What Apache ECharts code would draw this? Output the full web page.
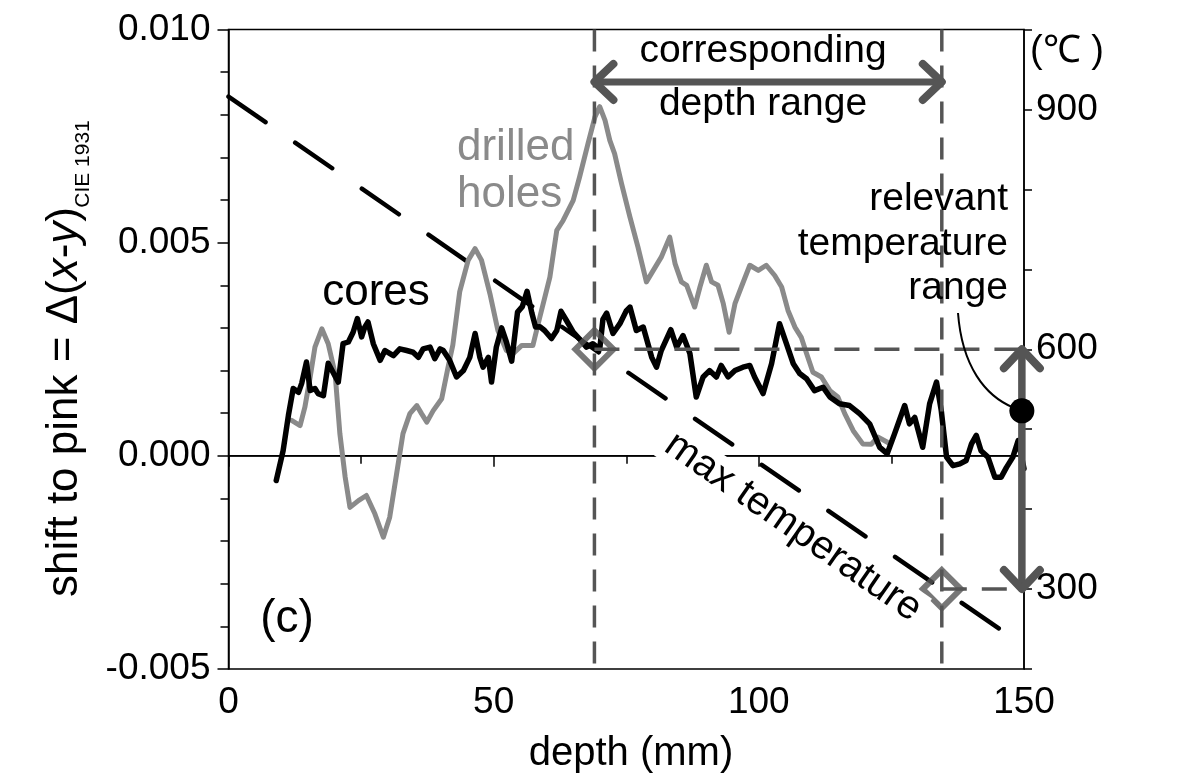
<!DOCTYPE html>
<html><head><meta charset="utf-8">
<script src="https://cdn.jsdelivr.net/npm/echarts@6/dist/echarts.min.js"></script>
<style>html,body{margin:0;padding:0;background:#fff}#c{width:1182px;height:780px}</style>
</head><body><div id="c"></div>
<script>
// ---- data ----
const coresDepth = [9.0,10.3,11.3,12.2,13.2,13.8,14.7,15.4,16.3,16.9,17.9,18.8,20.7,21.6,22.6,23.5,24.3,25.1,25.7,26.3,27.3,28.6,29.5,31.1,32.3,33.6,34.8,35.8,36.7,38.0,38.9,39.9,40.5,41.7,43.0,44.3,45.5,46.5,47.4,48.0,49.0,49.6,50.5,51.5,52.4,53.4,54.5,55.4,56.3,57.2,57.9,58.7,59.6,60.9,61.9,62.7,63.7,65.0,66.2,67.5,68.7,70.0,70.6,71.3,72.5,73.8,75.0,75.7,76.9,78.2,79.8,80.7,81.6,83.4,84.5,85.7,87.0,88.2,89.5,90.7,92.0,92.9,94.2,95.5,97.0,98.3,99.2,100.8,102.4,103.9,105.2,106.5,107.7,109.0,110.5,112.1,113.4,115.2,117.1,119.0,120.9,122.8,124.2,125.6,127.5,128.4,129.4,130.9,132.2,133.5,134.4,135.4,136.6,137.9,139.1,140.1,141.0,141.9,143.2,144.5,145.7,146.7,147.9,148.9,150.0];
const coresShift = [-0.00058,0.00012,0.00095,0.00158,0.00149,0.0017,0.0022,0.00153,0.00158,0.00146,0.00141,0.00217,0.00173,0.00263,0.00267,0.0029,0.00322,0.00279,0.00302,0.00314,0.00263,0.00224,0.00247,0.00235,0.00251,0.00247,0.00243,0.00231,0.00251,0.00255,0.00228,0.00251,0.00247,0.00224,0.00185,0.002,0.00231,0.00287,0.00231,0.00208,0.00231,0.00173,0.00255,0.003,0.00267,0.00222,0.00337,0.0035,0.00386,0.00335,0.00302,0.00303,0.00294,0.00275,0.00294,0.00339,0.00318,0.0029,0.00274,0.00255,0.00263,0.0025,0.0032,0.00335,0.00287,0.0031,0.0034,0.00349,0.00294,0.00302,0.00231,0.00208,0.00247,0.00296,0.00255,0.00282,0.0024,0.00138,0.00185,0.002,0.00185,0.00212,0.00185,0.002,0.00208,0.00212,0.00185,0.00146,0.00216,0.0031,0.00263,0.00216,0.00193,0.00181,0.00153,0.00161,0.00138,0.00122,0.00118,0.00099,0.00075,0.0002,0.00005,0.00052,0.00118,0.00075,0.0009,0.0002,0.00122,0.00173,0.00106,-0.00003,-0.00023,-0.00019,-0.00011,0.00028,0.00048,0.00012,-0.00003,-0.0005,-0.0005,-0.00027,-0.00003,0.00036,-0.0003];

const holesDepth = [11.9,13.5,14.4,15.4,16.3,17.6,18.8,20.1,21.0,22.0,22.9,24.5,26.0,27.6,29.2,30.4,31.7,32.9,34.2,35.5,36.4,37.4,38.6,40.2,41.4,42.3,43.6,45.2,46.5,47.7,49.3,50.8,52.4,53.7,55.3,57.4,58.7,60.6,61.9,63.1,65.0,66.2,67.8,69.1,70.0,71.0,71.9,72.8,74.1,75.7,77.2,78.8,80.1,81.6,83.2,84.2,85.4,86.4,87.9,88.9,90.1,91.1,92.3,93.3,94.4,95.5,96.7,98.3,99.9,101.4,103.0,104.3,105.5,106.8,108.0,109.0,110.2,111.8,113.4,114.9,116.2,117.8,119.6,121.2,122.5,124.5];
const holesShift = [0.00083,0.00071,0.00114,0.00185,0.00255,0.00298,0.00263,0.00193,0.00052,-0.0005,-0.00121,-0.00105,-0.00093,-0.00136,-0.00191,-0.00144,-0.00042,0.00052,0.00099,0.00118,0.00099,0.00079,0.00106,0.00134,0.00208,0.0026,0.00385,0.00459,0.00486,0.00459,0.0038,0.00294,0.00247,0.0024,0.00259,0.00259,0.00325,0.00419,0.00529,0.00552,0.00599,0.00654,0.00733,0.00795,0.00819,0.00787,0.0074,0.00709,0.00639,0.0056,0.0049,0.00408,0.00435,0.00466,0.00513,0.00451,0.00408,0.004,0.00349,0.00396,0.00447,0.00408,0.004,0.00357,0.0029,0.00357,0.00396,0.00447,0.00435,0.00447,0.00423,0.00396,0.00341,0.00302,0.00278,0.0024,0.00196,0.00185,0.00153,0.00138,0.00099,0.00059,0.00028,0.00027,0.00044,0.0003];

// max temperature line (right axis, deg C)
const maxTempDepth = [0, 145.4];
const maxTempC = [916, 250];
// corresponding depth range and relevant temperature range
const rangeDepth = [69, 134.5];
const rangeTempC = [600, 300];
const arrowShift = 0.00877;      // height of the depth-range arrow (left axis)
const arrowDepth = 149.6;        // position of the temperature-range arrow
const dotTempC = 523;            // black callout dot
// axes
const xTickLabels = [0, 50, 100, 150];
const leftTickLabels = [-0.005, 0.000, 0.005, 0.010];
const rightTickLabels = [300, 600, 900];

const zip = (a, b) => a.map((v, i) => [v, b[i]]);
const DARK = '#555555', GREY = '#8a8a8a';
const FONT = '"Liberation Sans", Arial, sans-serif';

const chart = echarts.init(document.getElementById('c'), null, {renderer: 'canvas'});
const opt = {
  animation: false,
  backgroundColor: '#fff',
  textStyle: {fontFamily: FONT},
  grid: {left: 228.5, right: 158, top: 29.5, bottom: 111, show: true, borderColor: '#000', borderWidth: 1.5, backgroundColor: 'transparent'},
  xAxis: {
    type: 'value', min: 0, max: 150, interval: 50,
    axisLine: {show: true, lineStyle: {color: '#000', width: 1.5}},
    axisTick: {show: true, inside: false, length: 11, lineStyle: {color: '#000', width: 1.5}},
    minorTick: {show: true, splitNumber: 2, length: 8, lineStyle: {color: '#000', width: 1.5}},
    splitLine: {show: false}, minorSplitLine: {show: false},
    axisLabel: {fontSize: 37, color: '#000', margin: 15, fontFamily: FONT,
      formatter: v => xTickLabels.includes(v) ? String(v) : ''}
  },
  yAxis: [{
    type: 'value', min: -0.005, max: 0.010, interval: 0.005,
    axisLine: {show: true, onZero: false, lineStyle: {color: '#000', width: 1.5}},
    axisTick: {show: true, length: 11, lineStyle: {color: '#000', width: 1.5}},
    minorTick: {show: true, splitNumber: 5, length: 8, lineStyle: {color: '#000', width: 1.5}},
    splitLine: {show: false}, minorSplitLine: {show: false},
    axisLabel: {fontSize: 37, color: '#000', margin: 18, fontFamily: FONT,
      formatter: v => {
        const r = Math.round(v * 1000) / 1000;
        return leftTickLabels.some(t => Math.abs(t - r) < 1e-9) ? (Math.abs(r) < 1e-9 ? '0.000' : r.toFixed(3)) : '';
      }}
  }, {
    type: 'value', min: 200, max: 1000, interval: 100, position: 'right',
    axisLine: {show: true, onZero: false, lineStyle: {color: '#000', width: 1.5}},
    axisTick: {show: true, length: 8, lineStyle: {color: '#000', width: 1.5}},
    splitLine: {show: false},
    axisLabel: {fontSize: 37, color: '#000', margin: 12, fontFamily: FONT,
      formatter: v => rightTickLabels.includes(v) ? String(v) : ''}
  }],
  series: [
    {type: 'line', name: 'zero', data: [[0, 0], [150, 0]], showSymbol: false, silent: true, z: 1,
     lineStyle: {color: '#000', width: 1.5}},
    {type: 'line', name: 'drilled holes', data: zip(holesDepth, holesShift), showSymbol: false, z: 3,
     lineStyle: {color: GREY, width: 5, join: 'round', cap: 'round'}},
    {type: 'line', name: 'cores', data: zip(coresDepth, coresShift), showSymbol: false, z: 4,
     lineStyle: {color: '#000', width: 5.5, join: 'round', cap: 'round'}},
    {type: 'line', name: 'max temperature', yAxisIndex: 1, data: zip(maxTempDepth, maxTempC), showSymbol: false, z: 2,
     lineStyle: {color: '#000', width: 4.5, type: [45, 36], cap: 'round'}},
    {type: 'line', data: [[rangeDepth[0], 0.010], [rangeDepth[0], -0.005]], showSymbol: false, z: 5,
     lineStyle: {color: DARK, width: 3.5, type: [22, 14]}},
    {type: 'line', data: [[rangeDepth[1], 0.010], [rangeDepth[1], -0.005]], showSymbol: false, z: 5,
     lineStyle: {color: DARK, width: 3.5, type: [22, 14]}},
    {type: 'line', yAxisIndex: 1, data: [[rangeDepth[0], rangeTempC[0]], [150, rangeTempC[0]]], showSymbol: false, z: 5,
     lineStyle: {color: DARK, width: 3.5, type: [25, 15]}},
    {type: 'line', yAxisIndex: 1, data: [[rangeDepth[1], rangeTempC[1]], [150, rangeTempC[1]]], showSymbol: false, z: 5,
     lineStyle: {color: DARK, width: 3.5, type: [25, 15]}},
    {type: 'line', data: [[rangeDepth[0], arrowShift], [rangeDepth[1], arrowShift]], showSymbol: false, z: 6,
     lineStyle: {color: DARK, width: 7}},
    {type: 'line', yAxisIndex: 1, data: [[arrowDepth, rangeTempC[0]], [arrowDepth, rangeTempC[1]]], showSymbol: false, z: 6,
     lineStyle: {color: DARK, width: 7.5}},
    {type: 'scatter', yAxisIndex: 1, data: zip(rangeDepth, rangeTempC), symbol: 'diamond', symbolSize: 38, z: 7,
     itemStyle: {color: 'rgba(255,255,255,0)', borderColor: DARK, borderWidth: 6}},
    {type: 'scatter', yAxisIndex: 1, data: [[arrowDepth, dotTempC]], symbol: 'circle', symbolSize: 25, z: 8,
     itemStyle: {color: '#000', opacity: 1}}
  ]
};
chart.setOption(opt);

// annotations
const P = (x, y) => chart.convertToPixel({xAxisIndex: 0, yAxisIndex: 0}, [x, y]);
const PT = (x, y) => chart.convertToPixel({xAxisIndex: 0, yAxisIndex: 1}, [x, y]);
const hL = P(rangeDepth[0], arrowShift), hR = P(rangeDepth[1], arrowShift);
const vT = PT(arrowDepth, rangeTempC[0]), vB = PT(arrowDepth, rangeTempC[1]);
const dot = PT(arrowDepth, dotTempC);
const head = {stroke: DARK, lineWidth: 8, lineCap: 'round', lineJoin: 'round', fill: null};
const txt = (x, y, text, size, extra) => Object.assign({type: 'text', x, y, z: 20,
  style: Object.assign({text, font: size + 'px ' + FONT, fill: '#000', textAlign: 'center', textVerticalAlign: 'middle'}, extra || {})});

const graphic = [
  {type: 'polyline', z: 19, shape: {points: [[hL[0] + 19, hL[1] - 18], hL, [hL[0] + 19, hL[1] + 18]]}, style: head},
  {type: 'polyline', z: 19, shape: {points: [[hR[0] - 19, hR[1] - 18], hR, [hR[0] - 19, hR[1] + 18]]}, style: head},
  {type: 'polyline', z: 19, shape: {points: [[vT[0] - 18, vT[1] + 19], vT, [vT[0] + 18, vT[1] + 19]]}, style: head},
  {type: 'polyline', z: 19, shape: {points: [[vB[0] - 18, vB[1] - 19], vB, [vB[0] + 18, vB[1] - 19]]}, style: head},
  {type: 'bezierCurve', z: 19, shape: {x1: 958, y1: 313, cpx1: 962, cpy1: 366, cpx2: 985, cpy2: 396, x2: dot[0] - 8, y2: dot[1] - 3},
   style: {stroke: '#000', lineWidth: 2, fill: null}},
  {type: 'circle', z: 21, shape: {cx: dot[0], cy: dot[1], r: 12}, style: {fill: '#000'}},
  txt(763, 51, 'corresponding', 39),
  txt(763, 104, 'depth range', 39),
  txt(1008, 199, 'relevant', 39, {textAlign: 'right'}),
  txt(1008, 244, 'temperature', 39, {textAlign: 'right'}),
  txt(1008, 288, 'range', 39, {textAlign: 'right'}),
  txt(376, 293, 'cores', 44),
  txt(457, 148, 'drilled', 44, {textAlign: 'left', fill: GREY}),
  txt(457, 195, 'holes', 44, {textAlign: 'left', fill: GREY}),
  txt(287, 619, '(c)', 46),
  txt(1030, 52, '(℃ )', 38, {textAlign: 'left'}),
  txt(631, 754, 'depth (mm)', 40),
  Object.assign(txt(793, 527, 'max temperature', 40, {backgroundColor: '#fff', padding: [0, 4, 0, 4]}), {rotation: -Math.atan(533 / 770), z: 15}),
  {type: 'text', x: 65, y: 402, rotation: Math.PI / 2, z: 20,
   style: {text: 'shift to pink = Δ({i|x}-{i|y})', font: '44px ' + FONT, fill: '#000', textAlign: 'center', textVerticalAlign: 'middle',
     rich: {i: {fontStyle: 'italic', fontSize: 44, fontFamily: FONT, fill: '#000'}}}},
  {type: 'text', x: 83, y: 164, rotation: Math.PI / 2, z: 20,
   style: {text: 'CIE 1931', font: '21px ' + FONT, fill: '#000', textAlign: 'center', textVerticalAlign: 'middle'}}
];
chart.setOption({graphic: graphic});
</script>
</body></html>
